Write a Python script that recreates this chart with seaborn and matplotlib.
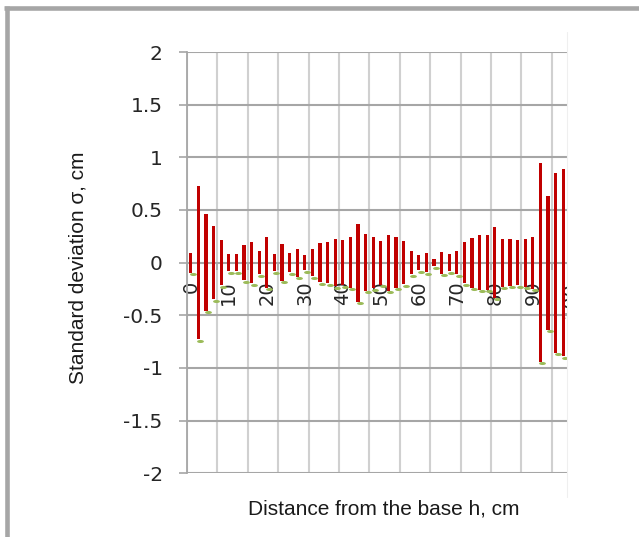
import numpy as np
import pandas as pd
import matplotlib
matplotlib.use("Agg")
import matplotlib.pyplot as plt
import seaborn as sns
from matplotlib.path import Path
from matplotlib.patches import Rectangle
from matplotlib.lines import Line2D
import matplotlib.transforms as mtransforms
from matplotlib.ticker import FixedLocator, NullFormatter, FixedFormatter

# ---- data ----
h = list(range(0, 100, 2))
sigma = [0.095, 0.728, 0.46, 0.348, 0.216, 0.083, 0.083, 0.168, 0.197, 0.111,
         0.241, 0.083, 0.174, 0.092, 0.133, 0.073, 0.13, 0.187, 0.197, 0.225,
         0.216, 0.241, 0.37, 0.27, 0.245,
         0.21, 0.266, 0.241, 0.206, 0.111, 0.073, 0.092, 0.035, 0.105, 0.083,
         0.111, 0.197, 0.238, 0.26, 0.26, 0.336, 0.228, 0.222, 0.216, 0.228,
         0.247, 0.944, 0.637, 0.855, 0.89]
neg_sigma = [-s for s in sigma]
y_ticks = [-2, -1.5, -1, -0.5, 0, 0.5, 1, 1.5, 2]
y_tick_labels = ["-2", "-1.5", "-1", "-0.5", "0", "0.5", "1", "1.5", "2"]
x_label_ticks = [0, 10, 20, 30, 40, 50, 60, 70, 80, 90, 100]
x_label_texts = ["0", "10", "20", "30", "40", "50", "60", "70", "80", "90", "100"]
x_grid_ticks = [-1, 7, 15, 23, 31, 39, 47, 55, 63, 71, 79, 87, 95]
x_title = "Distance from the base h, cm"
y_title = "Standard deviation σ, cm"

W, H = 639, 537
sns.set_theme(style="white")
fig = plt.figure(figsize=(W / 100, H / 100), dpi=100)
fig.patch.set_facecolor("white")

px_per_unit = 3.8
ax_left, ax_top, ax_bottom = 187.0, 52.0, 473.3
ax_w = (101 - (-1)) * px_per_unit
ax = fig.add_axes([ax_left / W, (H - ax_bottom) / H, ax_w / W, (ax_bottom - ax_top) / H])

bar_color = "#C00000"
df_up = pd.DataFrame({"h": h, "v": sigma})
df_dn = pd.DataFrame({"h": h, "v": neg_sigma})
for d in (df_up, df_dn):
    sns.barplot(data=d, x="h", y="v", native_scale=True, width=0.42,
                color=bar_color, saturation=1, edgecolor="none", linewidth=0,
                errorbar=None, ax=ax, zorder=3)

# low markers (small green dashes)
t = np.linspace(0, 2 * np.pi, 41)
ell = Path(np.column_stack([np.cos(t), 0.45 * np.sin(t)]), closed=True)
offset = mtransforms.ScaledTranslation(2.0 / 100, -1.2 / 100, fig.dpi_scale_trans)
sns.scatterplot(x=h, y=neg_sigma, marker=ell, s=24, color="#9BBB59",
                linewidth=0, ax=ax, transform=ax.transData + offset,
                zorder=4, legend=False)

ax.set_xlim(-1, 101)
ax.set_ylim(-2, 2)
ax.set_xlabel("")
ax.set_ylabel("")

for s in ("top", "right"):
    ax.spines[s].set_visible(False)
ax.spines["left"].set_color("#a6a6a6")
ax.spines["left"].set_linewidth(1.3)
ax.spines["bottom"].set_position(("data", 0))
ax.spines["bottom"].set_color("#a6a6a6")
ax.spines["bottom"].set_linewidth(1.3)
ax.spines["bottom"].set_zorder(2.5)

ax.xaxis.set_major_locator(FixedLocator(x_grid_ticks))
ax.xaxis.set_major_formatter(NullFormatter())
ax.xaxis.set_minor_locator(FixedLocator(x_label_ticks))
ax.xaxis.set_minor_formatter(FixedFormatter(x_label_texts))
ax.tick_params(axis="x", which="major", bottom=True, direction="out", length=5,
               width=1.2, color="#a6a6a6")
ax.tick_params(axis="x", which="minor", bottom=True, length=0, pad=13,
               labelsize=14, labelcolor="#262626", labelrotation=90)
for lab in ax.get_xticklabels(minor=True):
    lab.set_fontfamily("DejaVu Sans")

ax.set_yticks(y_ticks)
ax.set_yticklabels(y_tick_labels)
ax.tick_params(axis="y", which="major", left=True, direction="out", length=6,
               width=1.2, color="#a6a6a6", pad=11.5, labelsize=14.5,
               labelcolor="#262626")
for lab in ax.get_yticklabels():
    lab.set_fontfamily("DejaVu Sans")

ax.grid(axis="x", which="major", color="#d0d0d0", lw=1.5)
ax.grid(axis="y", which="major", color="#a6a6a6", lw=1.5)
ax.set_axisbelow(True)

ax.set_xlabel(x_title, fontsize=15, family="Liberation Sans", color="#1a1a1a")
ax.xaxis.set_label_coords((384 - ax_left) / ax_w, -(509 - ax_bottom) / (ax_bottom - ax_top))
ax.xaxis.label.set_va("center")
ax.set_ylabel(y_title, fontsize=15, family="Liberation Sans", color="#1a1a1a")
ax.yaxis.set_label_coords((78 - ax_left) / ax_w, (ax_bottom - 268) / (ax_bottom - ax_top))
ax.yaxis.label.set_va("center")

# crop edge of the chart area on the right
crop_x = 566.7
fig.add_artist(Rectangle((crop_x / W, 0), 1, (H - 11) / H, transform=fig.transFigure,
                         facecolor="white", edgecolor="none", zorder=10))
fig.add_artist(Line2D([crop_x / W, crop_x / W], [(H - 497) / H, (H - 32) / H],
                      transform=fig.transFigure, color="#efefef", lw=0.8, zorder=11))

# outer grey frame (top and left edges)
frame_c = "#a6a6a6"
fig.add_artist(Line2D([6.7 / W, 6.7 / W], [0, (H - 5.7) / H], transform=fig.transFigure,
                      color=frame_c, lw=3.3, solid_capstyle="butt", zorder=12))
fig.add_artist(Line2D([4.4 / W, 1], [(H - 8) / H, (H - 8) / H], transform=fig.transFigure,
                      color=frame_c, lw=3.3, solid_capstyle="butt", zorder=12))

fig.savefig("out.png", dpi=100)
